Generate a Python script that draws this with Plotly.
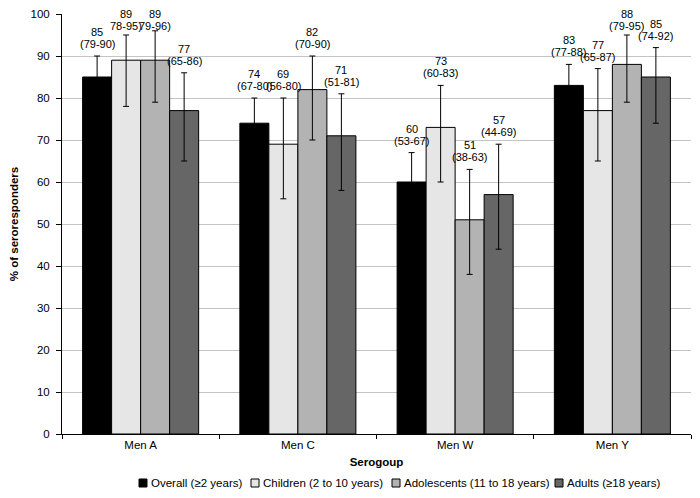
import plotly.graph_objects as go

categories = ["Men A", "Men C", "Men W", "Men Y"]
series_names = ["Overall (≥2 years)", "Children (2 to 10 years)",
                "Adolescents (11 to 18 years)", "Adults (≥18 years)"]
overall = [85, 74, 60, 83]
children = [89, 69, 73, 77]
adolescents = [89, 82, 51, 88]
adults = [77, 71, 57, 85]

overall_lo = [79, 67, 53, 77]
overall_hi = [90, 80, 67, 88]
children_lo = [78, 56, 60, 65]
children_hi = [95, 80, 83, 87]
adolescents_lo = [79, 70, 38, 79]
adolescents_hi = [96, 90, 63, 95]
adults_lo = [65, 58, 44, 74]
adults_hi = [86, 81, 69, 92]

# CI labels as printed
overall_ci = ["(79-90)", "(67-80)", "(53-67)", "(77-88)"]
children_ci = ["78-95)", "(56-80)", "(60-83)", "(65-87)"]
adolescents_ci = ["79-96)", "(70-90)", "(38-63)", "(79-95)"]
adults_ci = ["(65-86)", "(51-81)", "(44-69)", "(74-92)"]

values = [overall, children, adolescents, adults]
lows = [overall_lo, children_lo, adolescents_lo, adults_lo]
highs = [overall_hi, children_hi, adolescents_hi, adults_hi]
cis = [overall_ci, children_ci, adolescents_ci, adults_ci]
colors = ["#000000", "#e6e6e6", "#b3b3b3", "#666666"]

FONT = "Liberation Sans, Arial, sans-serif"
PAGE_OFF = 8            # default body margin of the page
W, H = 700 - PAGE_OFF, 498 - PAGE_OFF
ml, mt = 62 - PAGE_OFF, 14 - PAGE_OFF
mr, mb = 9, 64
bargap = 0.262
LABEL_CAP = 94.4        # labels never placed higher than this (keeps them inside)

fig = go.Figure()
for name, v, lo, hi, c in zip(series_names, values, lows, highs, colors):
    fig.add_trace(go.Bar(
        x=categories, y=v, name=name, showlegend=False,
        marker=dict(color=c, line=dict(color="#000000", width=1)),
        error_y=dict(type="data", symmetric=False,
                     array=[h - y for h, y in zip(hi, v)],
                     arrayminus=[y - l for l, y in zip(lo, v)],
                     color="#000000", thickness=1, width=3),
    ))

plot_w = W - ml - mr
plot_h = H - mt - mb
cat_w = plot_w / len(categories)
bar_w = cat_w * (1 - bargap) / len(series_names)
annotations = []
for i, (v, hi, ci) in enumerate(zip(values, highs, cis)):
    shift = (i - (len(series_names) - 1) / 2) * bar_w
    for j, cat in enumerate(categories):
        ya = min(hi[j], LABEL_CAP)
        annotations.append(dict(
            x=cat, y=ya, xref="x", yref="y", xshift=shift, yshift=4,
            text=ci[j], showarrow=False, yanchor="bottom", xanchor="center",
            font=dict(size=11, color="#000000", family=FONT),
        ))
        annotations.append(dict(
            x=cat, y=ya, xref="x", yref="y", xshift=shift, yshift=16,
            text=str(v[j]), showarrow=False, yanchor="bottom", xanchor="center",
            font=dict(size=11, color="#000000", family=FONT),
        ))

# manual one-line legend below the axis title (page pixel positions)
legend_px_x = [139, 251, 392, 555]
legend_px_y = 483
sq = 8
shapes = []
def px_to_paper_x(px):
    return (px - PAGE_OFF - ml) / plot_w
def px_to_paper_y(py):
    return (H - mb - (py - PAGE_OFF)) / plot_h
for name, c, lx in zip(series_names, colors, legend_px_x):
    shapes.append(dict(
        type="rect", xref="paper", yref="paper",
        x0=px_to_paper_x(lx), x1=px_to_paper_x(lx + sq),
        y0=px_to_paper_y(legend_px_y + sq / 2), y1=px_to_paper_y(legend_px_y - sq / 2),
        fillcolor=c, line=dict(color="#000000", width=1),
    ))
    annotations.append(dict(
        x=px_to_paper_x(lx + sq + 2), y=px_to_paper_y(legend_px_y),
        xref="paper", yref="paper", text=name, showarrow=False,
        xanchor="left", yanchor="middle",
        font=dict(size=11.5, color="#000000", family=FONT),
    ))

fig.update_layout(
    width=W, height=H,
    margin=dict(l=ml, r=mr, t=mt, b=mb, autoexpand=False),
    barmode="group", bargap=bargap, bargroupgap=0,
    plot_bgcolor="#ffffff", paper_bgcolor="#ffffff",
    font=dict(family=FONT, size=11.5, color="#000000"),
    annotations=annotations, shapes=shapes, showlegend=False,
    xaxis=dict(
        title=dict(text="<b>Serogoup</b>", font=dict(size=11.5), standoff=8),
        showline=True, linecolor="#000000", linewidth=1,
        ticks="outside", ticklen=4, tickcolor="#000000", tickson="boundaries",
        showgrid=False, tickfont=dict(size=11.5),
    ),
    yaxis=dict(
        title=dict(text="<b>% of seroresponders</b>", font=dict(size=11.5), standoff=10),
        range=[0, 100], dtick=10, showline=True, linecolor="#000000", linewidth=1,
        ticks="outside", ticklen=5, tickcolor="#000000", ticklabelstandoff=4,
        showgrid=True, gridcolor="#c4c4c4", gridwidth=1, zeroline=False,
        tickfont=dict(size=11.5),
    ),
)

fig.write_html("out.html")
